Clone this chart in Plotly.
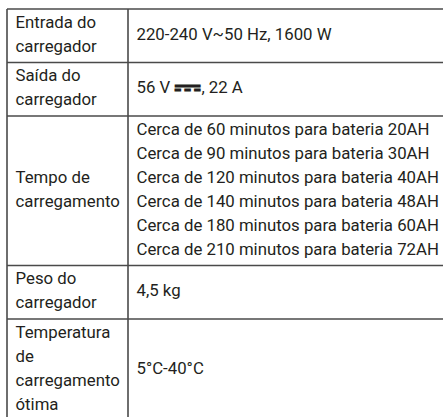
import plotly.graph_objects as go

# ---- data ----
labels = [
    ["Entrada do", "carregador"],
    ["Saída do", "carregador"],
    ["Tempo de", "carregamento"],
    ["Peso do", "carregador"],
    ["Temperatura", "de", "carregamento", "ótima"],
]
values = [
    ["220-240 V~50 Hz, 1600 W"],
    ["56 V <span style=\"font-family:'DejaVu Sans';font-size:34px;font-weight:bold;baseline-shift:-5px\">\u2393</span>, 22 A"],
    [
        "Cerca de 60 minutos para bateria 20AH",
        "Cerca de 90 minutos para bateria 30AH",
        "Cerca de 120 minutos para bateria 40AH",
        "Cerca de 140 minutos para bateria 48AH",
        "Cerca de 180 minutos para bateria 60AH",
        "Cerca de 210 minutos para bateria 72AH",
    ],
    ["4,5 kg"],
    ["5°C-40°C"],
]

# ---- layout constants ----
W, H = 443, 417
X0, COLX, XR = 7, 128, 460
Y0 = 9
LINE_H = 24.0
PAD = 5.5
TXT_PAD = 8.5
FONT = dict(family="Roboto, Liberation Sans, Arial, sans-serif", size=16.8, color="#231f20")
LINE_COL = "#4a4a4a"
LINE_W = 1.6

# row boundaries
tops = [Y0]
for lab, val in zip(labels, values):
    n = max(len(lab), len(val))
    tops.append(tops[-1] + n * LINE_H + PAD)

fig = go.Figure()

lx, ly, lt = [], [], []
rx, ry, rt = [], [], []
for i, (lab, val) in enumerate(zip(labels, values)):
    c = (tops[i] + tops[i + 1]) / 2
    for j, s in enumerate(lab):
        lx.append(X0 + TXT_PAD)
        ly.append(c + (j - (len(lab) - 1) / 2) * LINE_H)
        lt.append(s)
    for j, s in enumerate(val):
        rx.append(COLX + TXT_PAD)
        ry.append(c + (j - (len(val) - 1) / 2) * LINE_H)
        rt.append(s)

fig.add_trace(go.Scatter(x=lx, y=ly, text=lt, mode="text", textposition="middle right",
                         textfont=FONT, hoverinfo="skip", showlegend=False))
fig.add_trace(go.Scatter(x=rx, y=ry, text=rt, mode="text", textposition="middle right",
                         textfont=FONT, hoverinfo="skip", showlegend=False))

shapes = []
for t in tops:
    shapes.append(dict(type="line", x0=X0, x1=XR, y0=t, y1=t, xref="x", yref="y",
                       line=dict(color=LINE_COL, width=LINE_W)))
for x in (X0, COLX):
    shapes.append(dict(type="line", x0=x, x1=x, y0=Y0, y1=H + 20, xref="x", yref="y",
                       line=dict(color=LINE_COL, width=LINE_W)))

fig.update_layout(
    width=W, height=H,
    margin=dict(l=0, r=0, t=0, b=0),
    paper_bgcolor="white", plot_bgcolor="white",
    xaxis=dict(range=[0, W], visible=False, fixedrange=True),
    yaxis=dict(range=[H, 0], visible=False, fixedrange=True),
    shapes=shapes,
)

fig.write_html("out.html", config={"displayModeBar": False, "staticPlot": True},
               post_script="document.body.style.margin='0';")
